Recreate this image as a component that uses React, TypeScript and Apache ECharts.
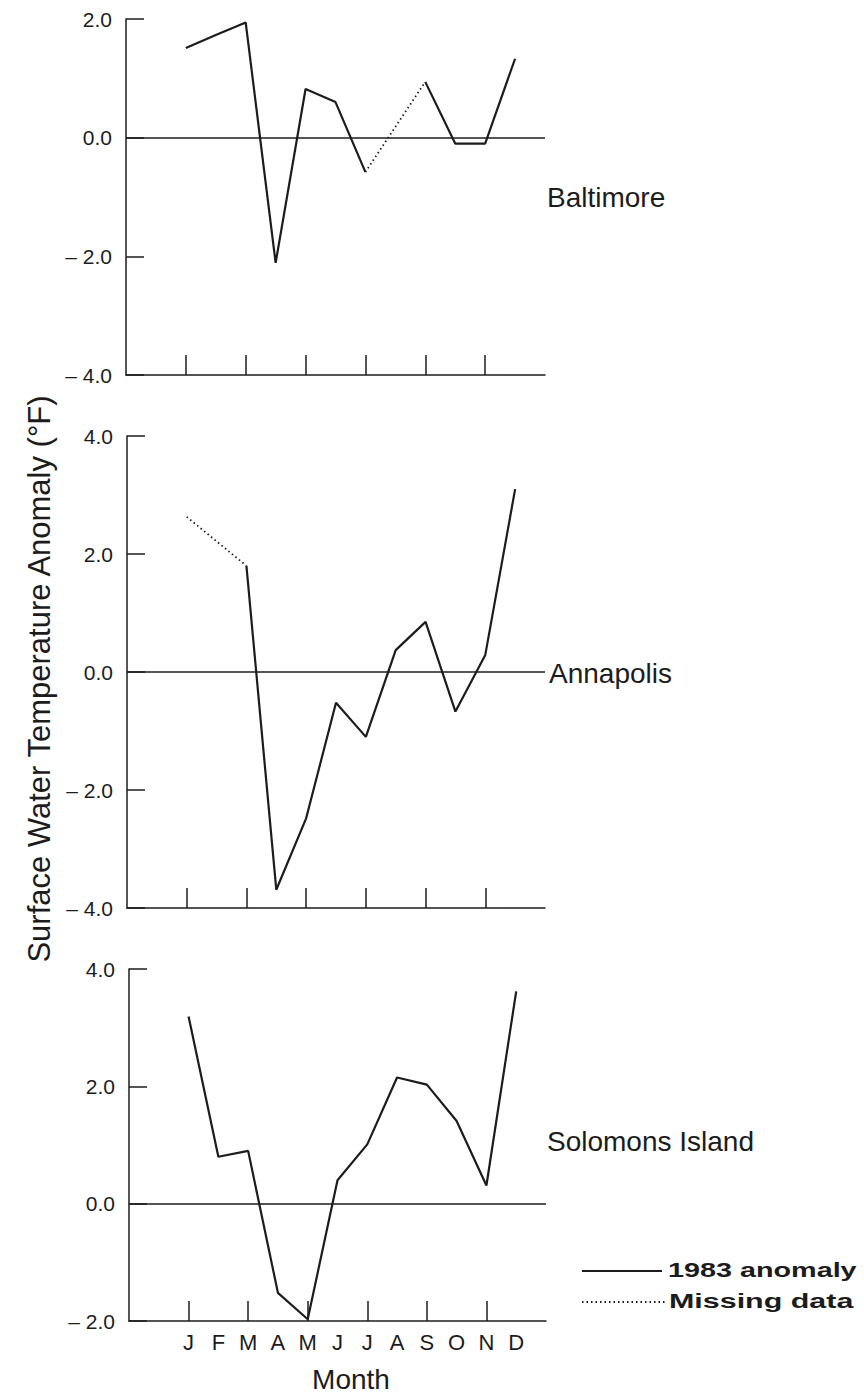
import React, { useEffect, useRef } from "react";
import * as echarts from "echarts";

const months = ["J", "F", "M", "A", "M", "J", "J", "A", "S", "O", "N", "D"];
const monthIdx = [0, 1, 2, 3, 4, 5, 6, 7, 8, 9, 10, 11];
const tickMonths = [0, 2, 4, 6, 8, 10];

// Baltimore
const balSolid: (number | null)[] = [1.51, 1.73, 1.94, -2.11, 0.82, 0.6, -0.58, null, 0.94, -0.1, -0.1, 1.33];
const balDotted: (number | null)[] = [null, null, null, null, null, null, -0.58, null, 0.94, null, null, null];
// Annapolis
const annSolid: (number | null)[] = [null, null, 1.8, -3.69, -2.48, -0.52, -1.1, 0.37, 0.85, -0.67, 0.29, 3.1];
const annDotted: (number | null)[] = [2.63, null, 1.8, null, null, null, null, null, null, null, null, null];
// Solomons Island
const solSolid: (number | null)[] = [3.19, 0.8, 0.9, -1.52, -1.97, 0.4, 1.01, 2.15, 2.03, 1.41, 0.31, 3.62];

const stations = ["Baltimore", "Annapolis", "Solomons Island"];
const yRanges = [
  [-4, 2],
  [-4, 4],
  [-2, 4],
];
const legendLabels = ["1983 anomaly", "Missing data"];
const yTitle = "Surface Water Temperature Anomaly (°F)";
const xTitle = "Month";

const INK = "#1c1c1c";
const FONT = "'Liberation Sans', Arial, Helvetica, sans-serif";

function solidData(arr: (number | null)[]) {
  return monthIdx.map((i) => [i, arr[i] === null ? "-" : arr[i]]);
}
function dottedData(arr: (number | null)[]) {
  return monthIdx.filter((i) => arr[i] !== null).map((i) => [i, arr[i]]);
}

export default function App() {
  const ref = useRef<HTMLDivElement>(null);

  useEffect(() => {
    if (!ref.current) return;
    const chart = echarts.init(ref.current, undefined, { renderer: "svg" });

    const grids = [
      { left: 126, right: 319, top: 19, height: 356 },
      { left: 127, right: 319, top: 436, height: 472 },
      { left: 129, right: 318, top: 969, height: 352 },
    ];

    const xAxes = grids.map((_, gi) => ({
      gridIndex: gi,
      type: "value",
      min: -2,
      max: 12,
      position: "bottom",
      axisLine: { show: true, onZero: false, lineStyle: { color: INK, width: 1.5 } },
      axisTick: {
        show: true,
        inside: true,
        length: 20,
        customValues: tickMonths,
        lineStyle: { color: INK, width: 1.5 },
      },
      axisLabel: {
        show: gi === 2,
        customValues: monthIdx,
        formatter: (v: number) => months[Math.round(v)] ?? "",
        fontSize: 22,
        color: INK,
        margin: 10,
        fontFamily: FONT,
      },
      splitLine: { show: false },
    }));

    const yAxes = grids.map((_, gi) => ({
      gridIndex: gi,
      type: "value",
      min: yRanges[gi][0],
      max: yRanges[gi][1],
      interval: 2,
      position: "left",
      axisLine: { show: true, onZero: false, lineStyle: { color: INK, width: 1.5 } },
      axisTick: { show: true, inside: true, length: 18, lineStyle: { color: INK, width: 1.5 } },
      axisLabel: {
        fontSize: 21,
        color: INK,
        margin: 14,
        fontFamily: FONT,
        formatter: (v: number) => (v < 0 ? "\u2013 " + Math.abs(v).toFixed(1) : v.toFixed(1)),
      },
      splitLine: { show: false },
    }));

    const zeroLine = {
      silent: true,
      symbol: "none",
      label: { show: false },
      lineStyle: { color: INK, width: 1.5, type: "solid" },
      data: [{ yAxis: 0 }],
    };

    const solidStyle = { color: INK, width: 2.2, type: "solid" };
    const dotStyle = { color: INK, width: 1.8, type: [1.5, 3] };

    const mkSolid = (gi: number, arr: (number | null)[]) => ({
      type: "line",
      xAxisIndex: gi,
      yAxisIndex: gi,
      data: solidData(arr),
      symbol: "none",
      connectNulls: false,
      lineStyle: solidStyle,
      markLine: zeroLine,
      z: 3,
    });
    const mkDotted = (gi: number, arr: (number | null)[]) => ({
      type: "line",
      xAxisIndex: gi,
      yAxisIndex: gi,
      data: dottedData(arr),
      symbol: "none",
      lineStyle: dotStyle,
      z: 3,
    });

    const stationText = (text: string, x: number, y: number) => ({
      type: "text",
      x,
      y,
      style: { text, font: `28px ${FONT}`, fill: INK, align: "left", verticalAlign: "middle" },
    });

    chart.setOption({
      animation: false,
      textStyle: { fontFamily: FONT },
      grid: grids.map((g) => ({ ...g, containLabel: false })),
      xAxis: xAxes,
      yAxis: yAxes,
      series: [
        mkSolid(0, balSolid),
        mkDotted(0, balDotted),
        mkSolid(1, annSolid),
        mkDotted(1, annDotted),
        mkSolid(2, solSolid),
      ],
      graphic: [
        stationText(stations[0], 547, 197),
        stationText(stations[1], 549, 673),
        stationText(stations[2], 547, 1141),
        {
          type: "text",
          x: 39,
          y: 679,
          rotation: Math.PI / 2,
          style: {
            text: yTitle,
            font: `31px ${FONT}`,
            fill: INK,
            align: "center",
            verticalAlign: "middle",
          },
        },
        {
          type: "text",
          x: 351,
          y: 1379,
          style: { text: xTitle, font: `28px ${FONT}`, fill: INK, align: "center", verticalAlign: "middle" },
        },
        {
          type: "line",
          shape: { x1: 582, y1: 1271, x2: 662, y2: 1271 },
          style: { stroke: INK, lineWidth: 2 },
        },
        {
          type: "line",
          shape: { x1: 582, y1: 1302, x2: 666, y2: 1302 },
          style: { stroke: INK, lineWidth: 2, lineDash: [1.5, 3] },
        },
        {
          type: "text",
          x: 668,
          y: 1269,
          scaleX: 1.37,
          style: {
            text: legendLabels[0],
            font: `bold 21px ${FONT}`,
            fill: INK,
            align: "left",
            verticalAlign: "middle",
          },
        },
        {
          type: "text",
          x: 669,
          y: 1301,
          scaleX: 1.45,
          style: {
            text: legendLabels[1],
            font: `bold 21px ${FONT}`,
            fill: INK,
            align: "left",
            verticalAlign: "middle",
          },
        },
      ],
    });

    return () => chart.dispose();
  }, []);

  return (
    <div
      ref={ref}
      style={{ position: "absolute", left: 0, top: 0, width: 864, height: 1397, background: "#fff" }}
    />
  );
}
